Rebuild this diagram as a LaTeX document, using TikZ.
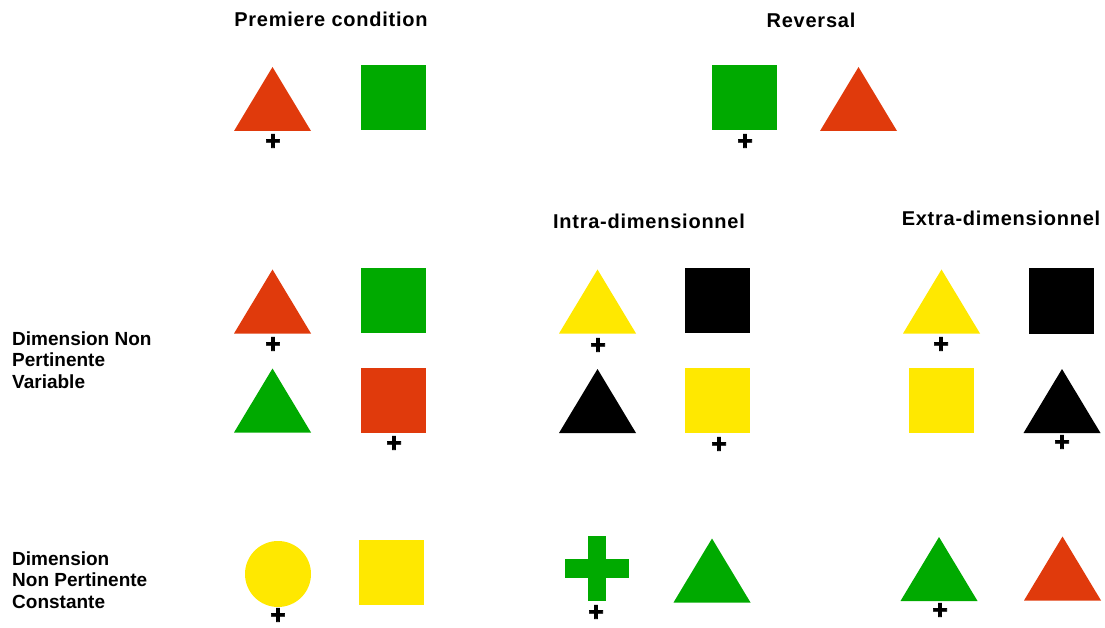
\documentclass[tikz,border=0pt]{standalone}
\usepackage{fontspec}
\setmainfont{Liberation Sans}
\definecolor{shred}{RGB}{224,58,12}
\definecolor{shgreen}{RGB}{0,170,0}
\definecolor{shyellow}{RGB}{255,232,0}
\newcommand\myTri[3]{\fill[#1,shift={(#2,#3)}] (-38.5,32)--(0,-32)--(38.5,32)--cycle;}
\newcommand\mySq[3]{\fill[#1,shift={(#2,#3)}] (-32.5,-32.5) rectangle (32.5,32.5);}
\tikzset{
  title/.style={font=\fontsize{20}{24}\selectfont\bfseries\addfontfeature{LetterSpace=3.8}, inner sep=0pt, anchor=center},
  rowlabel/.style={font=\fontsize{19}{21.5}\selectfont\bfseries, inner sep=0pt, anchor=north west, align=left},
  plusmark/.style={font=\fontsize{26.5}{26.5}\selectfont\bfseries\addfontfeature{FakeBold=2.5}, inner sep=0pt, anchor=center}
}
\begin{document}
\begin{tikzpicture}[x=1pt,y=-1pt]
\path[use as bounding box] (0,0) rectangle (1105,628);
% titles
\node[title] (t1) at (331,19) {Premiere condition};
\node[title] (t2) at (811,20) {Reversal};
\node[title] (t3) at (649,221) {Intra-dimensionnel};
\node[title] (t4) at (1001,218) {Extra-dimensionnel};
% row labels
\node[rowlabel] (l1) at (12,331.5) {Dimension Non\\Pertinente\\Variable};
\node[rowlabel] (l2) at (12,551.5) {Dimension\\Non Pertinente\\Constante};
% row 1
\myTri{shred}{272.5}{99}
\mySq{shgreen}{393.5}{98}
\node[plusmark] (p1) at (273,142) {+};
\mySq{shgreen}{744.5}{98}
\myTri{shred}{858.5}{99}
\node[plusmark] (p2) at (745,142) {+};
% row 2a
\myTri{shred}{272.5}{301.5}
\mySq{shgreen}{393.5}{300.5}
\node[plusmark] (p3) at (273,345) {+};
\myTri{shyellow}{597.5}{301.5}
\mySq{black}{717.5}{300.5}
\node[plusmark] (p4) at (598,346) {+};
\myTri{shyellow}{941.5}{301.5}
\mySq{black}{1061.5}{301}
\node[plusmark] (p5) at (941,345) {+};
% row 2b
\myTri{shgreen}{272.5}{400.5}
\mySq{shred}{393.5}{400.5}
\node[plusmark] (p6) at (394,444) {+};
\myTri{black}{597.5}{401}
\mySq{shyellow}{717.5}{400.5}
\node[plusmark] (p7) at (719,445) {+};
\mySq{shyellow}{941.5}{400.5}
\myTri{black}{1062}{401}
\node[plusmark] (p8) at (1062,443) {+};
% row 3
\fill[shyellow] (278,574) circle[radius=33];
\node[plusmark] (p9) at (278,616) {+};
\mySq{shyellow}{391.5}{572.5}
\fill[shgreen] (588,536) rectangle (606,601);
\fill[shgreen] (565,559) rectangle (629,578);
\node[plusmark] (p10) at (596,613) {+};
\myTri{shgreen}{712}{570.5}
\myTri{shgreen}{939}{569}
\node[plusmark] (p11) at (940,611) {+};
\myTri{shred}{1062.5}{568.5}
\end{tikzpicture}
\end{document}
